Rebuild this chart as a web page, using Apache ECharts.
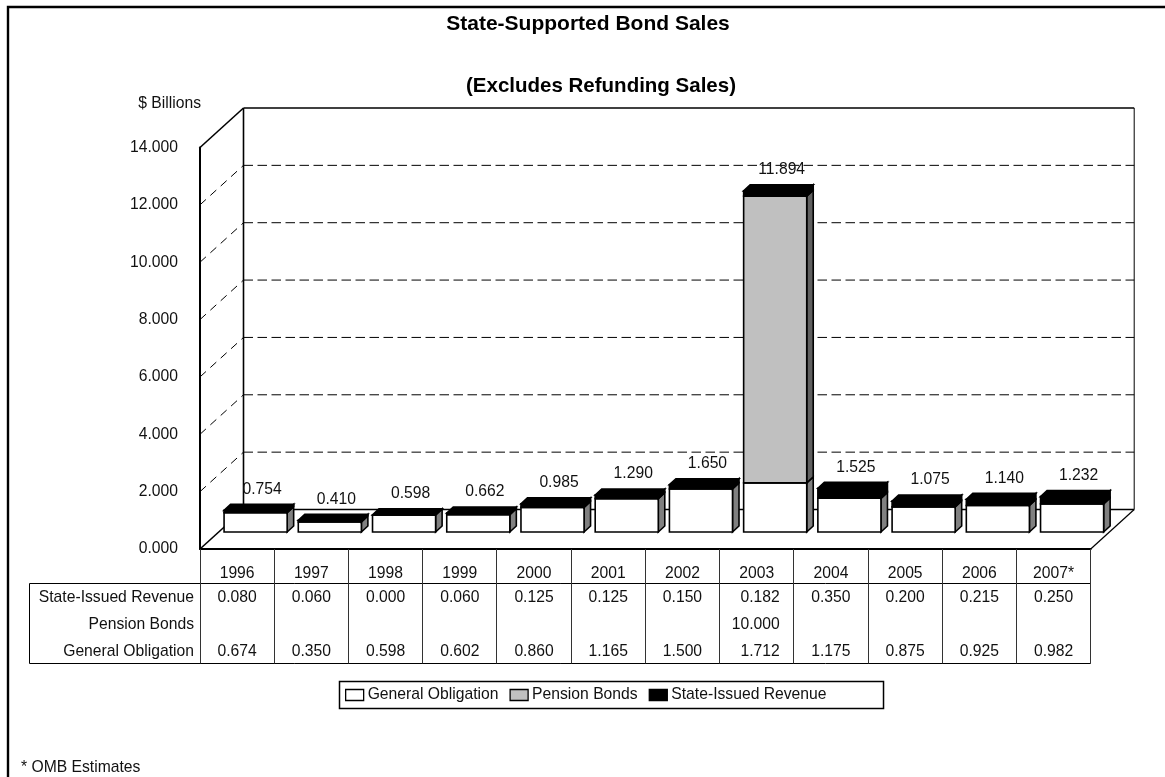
<!DOCTYPE html>
<html>
<head>
<meta charset="utf-8">
<style>html,body{margin:0;padding:0;background:#fff}#c{width:1165px;height:777px}</style>
<script src="https://cdn.jsdelivr.net/npm/echarts@6/dist/echarts.min.js"></script>
</head>
<body>
<div id="c"></div>
<script>
const years = ['1996','1997','1998','1999','2000','2001','2002','2003','2004','2005','2006','2007*'];
const generalObligation = [0.674,0.350,0.598,0.602,0.860,1.165,1.500,1.712,1.175,0.875,0.925,0.982];
const pensionBonds = [null,null,null,null,null,null,null,10.000,null,null,null,null];
const stateIssuedRevenue = [0.080,0.060,0.000,0.060,0.125,0.125,0.150,0.182,0.350,0.200,0.215,0.250];
const totals = [0.754,0.410,0.598,0.662,0.985,1.290,1.650,11.894,1.525,1.075,1.140,1.232];
const yTicks = [0,2,4,6,8,10,12,14];

const FONT = '"Liberation Sans", Arial, sans-serif';
const SIZE = 15.7;
const WALL = {dx:43.5, dy:-39.5};
const BASE = {dx:18.5, dy:-17};
const DEPTH = {dx:6.5, dy:-6};
const BAR_RATIO = 0.85;
const INK = '#000';
const TXT = '#111';

function snap(v){return Math.round(v-0.5)+0.5;}

function renderWalls(params, api){
  if(params.dataIndex!==0) return null;
  const bw = api.size([1,0])[0];
  const n = years.length;
  const o = api.coord([0,0]);
  const left = o[0]-bw/2, right = left+bw*n;
  const floorY = o[1];
  const top = api.coord([0,14])[1];
  const ch = [];
  const line = (x1,y1,x2,y2,w,dash,col)=>ch.push({type:'line',shape:{x1,y1,x2,y2},
    style:{stroke:col||INK,lineWidth:w,lineDash:dash||null,fill:null}});
  yTicks.forEach(t=>{
    if(t===0||t===14) return;
    const y = api.coord([0,t])[1];
    line(left,y,left+WALL.dx,y+WALL.dy,1,[8,6]);
    const by = y+WALL.dy;
    line(left+WALL.dx,by,right+WALL.dx,by,1,[9.5,4.5]);
  });
  line(left+WALL.dx,top+WALL.dy,right+WALL.dx,top+WALL.dy,1.6);
  line(left,top,left+WALL.dx,top+WALL.dy,1.6);
  line(left+WALL.dx,top+WALL.dy,left+WALL.dx,floorY+WALL.dy,1.6);
  line(right+WALL.dx,top+WALL.dy,right+WALL.dx,floorY+WALL.dy,1);
  line(left+WALL.dx,floorY+WALL.dy,right+WALL.dx,floorY+WALL.dy,1.6);
  line(left,floorY,left+WALL.dx,floorY+WALL.dy,1.6);
  line(right,floorY,right+WALL.dx,floorY+WALL.dy,1.2);
  return {type:'group',children:ch};
}

function barRender(fill, side, own, below, isTop){
  return function(params, api){
    const i = api.value(0);
    const v = own[i];
    if(v===null || v===undefined) return null;
    const base = below(i);
    const c0 = api.coord([i,base]), c1 = api.coord([i,base+v]);
    const bw = api.size([1,0])[0]*BAR_RATIO;
    const x0 = c0[0]-bw/2+BASE.dx, x1 = x0+bw;
    const y0 = c0[1]+BASE.dy, y1 = c1[1]+BASE.dy;
    const sty = {stroke:INK,lineWidth:1.6,lineJoin:'miter'};
    const ch = [
      {type:'polygon',shape:{points:[[x1,y0],[x1+DEPTH.dx,y0+DEPTH.dy],[x1+DEPTH.dx,y1+DEPTH.dy],[x1,y1]]},
        style:Object.assign({fill:side},sty)},
      {type:'rect',shape:{x:x0,y:y1,width:bw,height:y0-y1},style:Object.assign({fill:fill},sty)}
    ];
    if(isTop){
      ch.push({type:'polygon',shape:{points:[[x0,y1],[x0+DEPTH.dx,y1+DEPTH.dy],[x1+DEPTH.dx,y1+DEPTH.dy],[x1,y1]]},
        style:Object.assign({fill:fill},sty)});
      ch.push({type:'text',style:{text:totals[i].toFixed(3),x:(x0+x1)/2+DEPTH.dx,y:y1+DEPTH.dy-15,
        textAlign:'center',textVerticalAlign:'middle',font:SIZE+'px '+FONT,fill:TXT}});
    }
    return {type:'group',children:ch};
  };
}

const rowNames = ['State-Issued Revenue','Pension Bonds','General Obligation'];
const rows = [stateIssuedRevenue,pensionBonds,generalObligation];

function renderTable(params, api){
  if(params.dataIndex!==0) return null;
  const bw = api.size([1,0])[0];
  const o = api.coord([0,0]);
  const left = o[0]-bw/2, right = left+bw*years.length, floorY = o[1];
  const tTop = snap(floorY+34), rowH = 26.7, tBot = snap(tTop+rowH*3);
  const tLeft = 29.5;
  const ch = [];
  const line = (x1,y1,x2,y2,col)=>ch.push({type:'line',shape:{x1,y1,x2,y2},style:{stroke:col||INK,lineWidth:1,fill:null}});
  line(tLeft,tTop,right,tTop);
  line(tLeft,tBot,right,tBot);
  line(tLeft,tTop,tLeft,tBot);
  for(let k=0;k<=years.length;k++){
    const x = snap(left+bw*k);
    line(x,floorY,x,tBot,'#333');
  }
  rows.forEach((r,ri)=>{
    const y = tTop+rowH*(ri+0.5)+1;
    ch.push({type:'text',style:{text:rowNames[ri],x:left-6,y,textAlign:'right',textVerticalAlign:'middle',
      font:SIZE+'px '+FONT,fill:TXT}});
    r.forEach((v,k)=>{
      if(v===null) return;
      const cx = api.coord([k,0])[0];
      const wide = rows.some(q=>q[k]!==null && q[k]>=10);
      ch.push({type:'text',style:{text:v.toFixed(3),x:wide?cx+23:cx,y,textAlign:wide?'right':'center',
        textVerticalAlign:'middle',font:SIZE+'px '+FONT,fill:TXT}});
    });
  });
  return {type:'group',children:ch};
}

const chart = echarts.init(document.getElementById('c'),null,{renderer:'canvas'});
const idx = years.map((y,i)=>[i,0]);
chart.setOption({
  animation:false,
  backgroundColor:'#fff',
  title:[
    {text:'State-Supported Bond Sales',left:588,top:24,textAlign:'center',textVerticalAlign:'middle',padding:0,
      textStyle:{fontFamily:FONT,fontWeight:'bold',fontSize:21,color:'#000'}},
    {text:'(Excludes Refunding Sales)',left:601,top:86,textAlign:'center',textVerticalAlign:'middle',padding:0,
      textStyle:{fontFamily:FONT,fontWeight:'bold',fontSize:20.5,color:'#000'}},
    {text:'* OMB Estimates',left:21,top:768,textVerticalAlign:'middle',padding:0,
      textStyle:{fontFamily:FONT,fontWeight:'normal',fontSize:SIZE,color:TXT}}
  ],
  grid:{left:200,top:147.5,width:890.7,height:401.5,containLabel:false},
  xAxis:{type:'category',data:years,boundaryGap:true,
    axisLine:{show:true,lineStyle:{color:INK,width:2}},
    axisTick:{show:false},
    axisLabel:{color:TXT,fontFamily:FONT,fontSize:SIZE,margin:17,interval:0}},
  yAxis:{type:'value',min:0,max:14,interval:2,
    name:'$ Billions',nameLocation:'end',nameGap:36,
    nameTextStyle:{color:TXT,fontFamily:FONT,fontSize:SIZE,align:'right',padding:[0,-1,0,0]},
    axisLine:{show:true,onZero:false,lineStyle:{color:INK,width:2}},
    axisTick:{show:false},splitLine:{show:false},
    axisLabel:{color:TXT,fontFamily:FONT,fontSize:SIZE,margin:22,padding:[3,0,0,0],formatter:v=>v.toFixed(3)}},
  legend:{show:true,left:339.5,top:681.5,padding:[5.5,57,5.5,5.5],itemGap:11,itemWidth:18,itemHeight:11,
    backgroundColor:'#fff',borderColor:'#000',borderWidth:1.5,borderRadius:0,
    textStyle:{color:TXT,fontFamily:FONT,fontSize:SIZE,padding:[0,0,0,-1]},
    data:[
      {name:'General Obligation',icon:'rect',itemStyle:{color:'#fff',borderColor:'#000',borderWidth:1.3}},
      {name:'Pension Bonds',icon:'rect',itemStyle:{color:'#c0c0c0',borderColor:'#000',borderWidth:1.3}},
      {name:'State-Issued Revenue',icon:'rect',itemStyle:{color:'#000',borderColor:'#000',borderWidth:1.3}}
    ]},
  graphic:[{type:'polyline',shape:{points:[[8,777],[8,7],[1165,7]]},silent:true,
    style:{stroke:'#000',lineWidth:2.4,fill:null}}],
  series:[
    {type:'custom',name:'walls',data:idx,renderItem:renderWalls,silent:true,z:1,clip:false},
    {type:'custom',name:'General Obligation',data:idx,z:2,clip:false,itemStyle:{color:'#fff'},
      renderItem:barRender('#fff','#808080',generalObligation,()=>0,false)},
    {type:'custom',name:'Pension Bonds',data:idx,z:3,clip:false,itemStyle:{color:'#c0c0c0'},
      renderItem:barRender('#c0c0c0','#606060',pensionBonds,i=>generalObligation[i],false)},
    {type:'custom',name:'State-Issued Revenue',data:idx,z:4,clip:false,itemStyle:{color:'#000'},
      renderItem:barRender('#000','#000',stateIssuedRevenue,i=>generalObligation[i]+(pensionBonds[i]||0),true)},
    {type:'custom',name:'table',data:idx,renderItem:renderTable,silent:true,z:5,clip:false}
  ]
});
</script>
</body>
</html>
